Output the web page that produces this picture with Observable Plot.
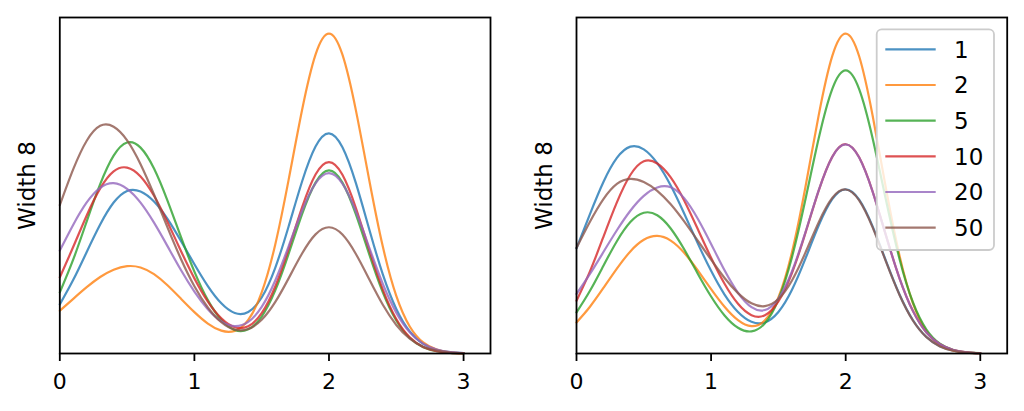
<!DOCTYPE html>
<html><head><meta charset="utf-8">
<script src="https://cdn.jsdelivr.net/npm/d3@7"></script>
<script src="https://cdn.jsdelivr.net/npm/@observablehq/plot@0.6"></script>
<style>
html,body{margin:0;padding:0;background:#fff;}
#fig{position:relative;width:1024px;height:411px;font-family:"DejaVu Sans",sans-serif;overflow:hidden;}
#left,#right{position:absolute;top:0;}
#left{left:0;} #right{left:512px;}
#legend{position:absolute;left:0;top:0;pointer-events:none;}
#fig g[aria-label="x-axis tick label"]{font-size:22px !important;}
#fig g[aria-label="x-axis tick label"] text{font-size:22px !important;}
</style></head><body>
<div id="fig"><div id="left"></div><div id="right"></div></div>
<script>
// ---- data ----
const xs = [0,0.1,0.2,0.3,0.4,0.5,0.6,0.7,0.8,0.9,1.0,1.1,1.2,1.3,1.4,1.5,1.6,1.7,1.8,1.9,2.0,2.1,2.2,2.3,2.4,2.5,2.6,2.7,2.8,2.9,3.0];
const seriesNames = ["1","2","5","10","20","50"];
const seriesColors = ["#1f77b4","#ff7f0e","#2ca02c","#d62728","#9467bd","#8c564b"];
const xTicks = [0,1,2,3];
const yLabel = "Width 8";

const left1  = [49,73.5,101.4,128.8,150.7,162.3,161.7,151.7,134.4,112.4,89.1,67.3,50.1,40.4,41.4,55.9,85.3,126.8,171.7,206.6,219.8,205.8,170.0,123.5,79.0,44.5,22.1,9.6,3.7,1.3,0.4];
const left2  = [42.7,54.6,66.2,76.4,83.7,87.2,85.9,79.2,68.1,54.7,41.3,29.9,22.8,22.6,33.5,61.0,108.4,173.3,243.1,298.4,319.4,298.3,242.7,172.5,106.7,57.5,27.0,11.1,4.0,1.2,0.3];
const left5  = [61,93.9,131.9,169.0,197.5,210.6,205.5,184.6,152.6,116.3,81.7,53.3,33.6,23.4,24.1,36.9,62.7,99.4,139.2,170.6,182.7,170.6,138.9,98.7,61.0,32.9,15.5,6.3,2.3,0.7,0.2];
const left10 = [76,106.5,137.8,164.8,181.9,185.6,176.7,157.4,131.2,102.4,75.0,51.8,35.1,26.2,27.2,40.2,66.6,104.4,145.8,178.6,191.0,178.4,145.2,103.1,63.8,34.4,16.2,6.6,2.4,0.7,0.2];
const left20 = [102.7,128.6,150.8,165.4,170.0,164.4,150.6,130.6,107.2,83.3,61.8,44.2,32.1,27.4,31.6,46.5,72.6,107.0,142.5,169.9,180.1,169.6,141.8,105.5,69.5,40.7,21.2,9.8,4.0,1.5,0.5];
const left50 = [148,184.0,212.4,227.3,226.4,212.8,189.0,158.7,125.9,94.4,67.2,45.9,31.2,23.8,24.4,33.6,51.2,75.0,99.8,118.9,126.0,118.7,99.3,73.8,48.6,28.5,14.8,6.8,2.8,1.0,0.3];

const right1  = [105,139.2,171.2,195.2,206.5,203.8,190.0,167.6,139.7,110.2,82.5,58.8,41.4,31.6,31.0,41.4,63.3,94.4,127.9,154.0,163.9,153.6,126.9,92.2,58.9,33.2,16.5,7.2,2.8,0.9,0.3];
const right2  = [31,46.7,65.4,84.7,101.9,113.5,117.4,112.7,100.5,83.2,64.3,46.7,33.3,27.3,33.1,55.9,100.6,165.5,238.2,296.9,319.4,296.7,237.6,164.2,97.7,50.1,22.3,8.5,2.8,0.8,0.2];
const right5  = [41,62.6,87.6,112.1,131.2,140.5,138.0,124.8,104.0,79.9,56.9,38.0,25.7,22.1,30.2,53.9,95.7,153.2,215.1,264.0,282.7,264.0,214.9,152.7,94.4,50.9,23.9,9.8,3.5,1.1,0.3];
const right10 = [52.7,82.0,116.5,150.9,178.2,191.9,189.7,175.8,152.8,124.5,95.6,69.6,49.6,38.3,38.2,52.0,80.1,119.9,162.8,196.3,208.9,195.8,161.7,117.5,75.1,42.4,21.0,9.2,3.5,1.2,0.35];
const right20 = [59.4,79.5,101.3,123.0,142.5,157.4,165.7,165.9,155.1,134.8,109.4,83.0,60.6,46.3,43.4,54.8,81.6,120.6,163.0,196.2,208.8,195.6,161.6,117.4,75.1,42.3,21.0,9.2,3.5,1.2,0.35];
const right50 = [105.4,131.5,154.1,169.3,174.4,171.2,162.4,148.9,131.8,112.8,93.6,75.4,60.3,50.1,47.3,54.4,72.7,100.4,131.1,155.2,163.7,152.8,125.9,91.4,58.4,32.8,16.3,7.1,2.7,0.9,0.3];

const leftSeries = [left1,left2,left5,left10,left20,left50];
const rightSeries = [right1,right2,right5,right10,right20,right50];

const FONT = "DejaVu Sans, sans-serif";
const FS = 23;

function panel(series, marginLeft, marginRight) {
  const marks = [];
  series.forEach((vals, i) => {
    const rows = xs.map((x, j) => ({x, y: vals[j]}));
    marks.push(Plot.line(rows, {x: "x", y: "y", stroke: seriesColors[i], strokeWidth: 2.2, strokeOpacity: 0.8, curve: "natural"}));
  });
  marks.push(Plot.frame({stroke: "black", strokeWidth: 1.8}));
  marks.push(Plot.axisX({ticks: xTicks, label: null, tickSize: 8, tickPadding: 12, strokeWidth: 1.8, tickFormat: d => String(d), fontSize: 22, fill: "black"}));
  marks.push(Plot.text([yLabel], {text: d => d, frameAnchor: "left", dx: -32, rotate: -90, textAnchor: "middle", lineAnchor: "middle", fontSize: FS, fill: "black"}));
  return Plot.plot({
    width: 512, height: 411,
    marginLeft, marginRight, marginTop: 17, marginBottom: 58,
    x: {domain: [0, 3.2], axis: null, label: null},
    y: {domain: [0, 335.4], axis: null},
    style: {fontFamily: FONT, fontSize: FS + "px", color: "black", background: "white", overflow: "visible"},
    marks
  });
}

document.getElementById("left").appendChild(panel(leftSeries, 59.3, 22));
document.getElementById("right").appendChild(panel(rightSeries, 64, 17.3));

// legend (upper right of the right panel)
const lg = d3.select("#fig").append("svg").attr("id", "legend").attr("width", 1024).attr("height", 411);
lg.append("rect").attr("x", 876.7).attr("y", 29.3).attr("width", 117.3).attr("height", 220.7)
  .attr("rx", 5).attr("fill", "white").attr("fill-opacity", 0.8).attr("stroke", "#cccccc").attr("stroke-width", 1.8);
const rowY = [49.3, 85, 120.7, 156.3, 192, 227.7];
seriesNames.forEach((name, i) => {
  lg.append("line").attr("x1", 885.3).attr("x2", 935.7).attr("y1", rowY[i]).attr("y2", rowY[i])
    .attr("stroke", seriesColors[i]).attr("stroke-opacity", 0.8).attr("stroke-width", 2.2);
  lg.append("text").attr("x", 954).attr("y", rowY[i]).attr("dy", "0.36em")
    .attr("font-family", FONT).attr("font-size", FS).attr("fill", "black").text(name);
});
</script>
</body></html>
